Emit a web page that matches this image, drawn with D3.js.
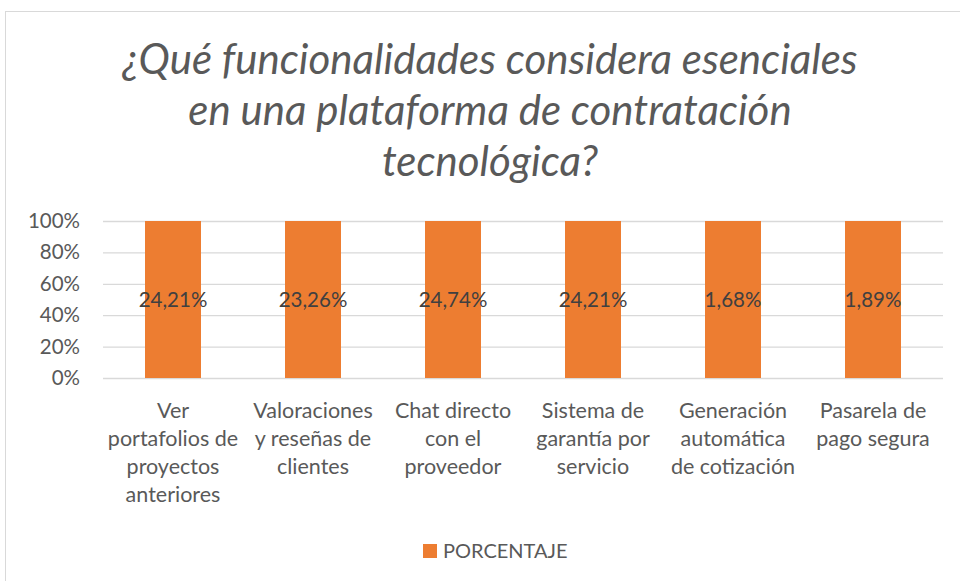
<!DOCTYPE html>
<html>
<head>
<meta charset="utf-8">
<script src="https://cdn.jsdelivr.net/npm/d3@7"></script>
<style>
  html, body { margin: 0; padding: 0; background: #fff; }
  svg { display: block; font-family: Lato, "Liberation Sans", sans-serif; }
</style>
</head>
<body>
<div id="chart"></div>
<script>
// ── DATA ─────────────────────────────────────────────────────────────────────
const categories = [
  ['Ver', 'portafolios de', 'proyectos', 'anteriores'],
  ['Valoraciones', 'y reseñas de', 'clientes'],
  ['Chat directo', 'con el', 'proveedor'],
  ['Sistema de', 'garantía por', 'servicio'],
  ['Generación', 'automática', 'de cotización'],
  ['Pasarela de', 'pago segura']
];
const values = [24.21, 23.26, 24.74, 24.21, 1.68, 1.89];
const yTicks = [0, 0.2, 0.4, 0.6, 0.8, 1];
const titleLines = [
  '¿Qué funcionalidades considera esenciales',
  'en una plataforma de contratación',
  'tecnológica?'
];
const seriesName = 'PORCENTAJE';

// ── DIMENSIONS ───────────────────────────────────────────────────────────────
const W = 960, H = 581;
const plot = { left: 103, right: 943, top: 221, bottom: 378 };
const barColor = '#ed7d31';
const textColor = '#595959';

const svg = d3.select('#chart').append('svg')
  .attr('width', W)
  .attr('height', H);

// chart frame (runs off the right and bottom edges)
svg.append('rect')
  .attr('x', 5.5).attr('y', 11.5)
  .attr('width', W + 10).attr('height', H + 10)
  .attr('fill', '#fff')
  .attr('stroke', '#d9d9d9');

// ── TITLE ────────────────────────────────────────────────────────────────────
svg.append('g').selectAll('text')
  .data(titleLines)
  .join('text')
    .attr('x', 490)
    .attr('y', (d, i) => 74 + i * 51)
    .attr('text-anchor', 'middle')
    .attr('font-size', 42)
    .attr('font-style', 'italic')
    .attr('fill', textColor)
    .text(d => d);

// ── SCALES ───────────────────────────────────────────────────────────────────
const x = d3.scaleBand()
  .domain(d3.range(categories.length))
  .range([plot.left, plot.right])
  .paddingInner(0.6)
  .paddingOuter(0.3);

const y = d3.scaleLinear().domain([0, 1]).range([plot.bottom, plot.top]);

// ── GRIDLINES + Y AXIS ───────────────────────────────────────────────────────
const yAxis = svg.append('g')
  .attr('transform', `translate(${plot.left},0)`)
  .call(d3.axisLeft(y).tickValues(yTicks)
    .tickFormat(d3.format('.0%'))
    .tickSize(-(plot.right - plot.left))
    .tickPadding(23));
yAxis.select('.domain').remove();
yAxis.selectAll('line').attr('stroke', '#d9d9d9').attr('stroke-width', 1.3);
yAxis.selectAll('text')
  .attr('font-family', 'Lato, "Liberation Sans", sans-serif')
  .attr('font-size', 20.5)
  .attr('fill', textColor);

// ── BARS (100% stacked, single series) ───────────────────────────────────────
const total = values.map(v => v / v);
svg.append('g').selectAll('rect')
  .data(values)
  .join('rect')
    .attr('x', (d, i) => x(i))
    .attr('width', x.bandwidth())
    .attr('y', (d, i) => y(total[i]))
    .attr('height', (d, i) => y(0) - y(total[i]))
    .attr('fill', barColor);

// data labels
svg.append('g').selectAll('text')
  .data(values)
  .join('text')
    .attr('x', (d, i) => x(i) + x.bandwidth() / 2)
    .attr('y', y(0.5) + 7)
    .attr('text-anchor', 'middle')
    .attr('font-size', 20.5)
    .attr('fill', '#404040')
    .text(d => d.toFixed(2).replace('.', ',') + '%');

// ── X AXIS LABELS ────────────────────────────────────────────────────────────
const xLabels = svg.append('g').selectAll('text')
  .data(categories)
  .join('text')
    .attr('x', (d, i) => x(i) + x.bandwidth() / 2)
    .attr('y', 418)
    .attr('text-anchor', 'middle')
    .attr('font-size', 21.5)
    .attr('fill', textColor);
xLabels.selectAll('tspan')
  .data(d => d)
  .join('tspan')
    .attr('x', function() { return this.parentNode.getAttribute('x'); })
    .attr('dy', (d, i) => i === 0 ? 0 : 28)
    .text(d => d);

// ── LEGEND ───────────────────────────────────────────────────────────────────
const legend = svg.append('g').attr('transform', 'translate(423,544)');
legend.append('rect')
  .attr('width', 14).attr('height', 14)
  .attr('fill', barColor);
legend.append('text')
  .attr('x', 20).attr('y', 14)
  .attr('font-size', 20)
  .attr('fill', textColor)
  .text(seriesName);
</script>
</body>
</html>
